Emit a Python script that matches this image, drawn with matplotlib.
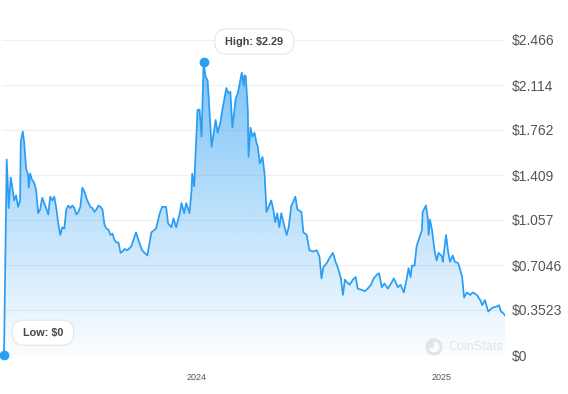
import numpy as np
import pandas as pd
import matplotlib
matplotlib.use("Agg")
import matplotlib.pyplot as plt
import matplotlib.dates as mdates
from matplotlib.path import Path
from matplotlib.patches import PathPatch, Circle, Wedge

plt.rcParams['font.family'] = ['Liberation Sans', 'DejaVu Sans']

# ---- data ----
start_date = "2023-03-20"
day_offsets = [0, 4, 6, 7, 10, 12, 15, 18, 21, 24, 25, 28, 30, 33, 36, 37, 39, 42, 45, 48,
               51, 54, 57, 60, 63, 66, 69, 72, 75, 78, 81, 84, 87, 90, 93, 96, 99, 102, 105, 108,
               111, 114, 117, 120, 123, 126, 129, 132, 135, 138, 141, 144, 147, 150, 153, 156, 159, 162, 165, 168,
               171, 174, 177, 180, 184, 190, 197, 202, 206, 214, 220, 227, 232, 236, 242, 245, 250, 253, 257, 262,
               265, 269, 272, 277, 280, 281, 284, 286, 289, 292, 295, 298, 301, 304, 307, 310, 316, 319, 323, 326,
               332, 335, 338, 341, 346, 349, 352, 355, 358, 359, 361, 364, 365, 368, 371, 374, 377, 379, 382, 386,
               389, 392, 395, 399, 402, 405, 408, 411, 414, 419, 422, 425, 429, 431, 435, 438, 444, 447, 452, 456,
               461, 467, 471, 474, 477, 482, 486, 491, 495, 498, 503, 506, 509, 512, 516, 521, 525, 528, 534, 539,
               543, 548, 552, 557, 560, 564, 568, 573, 579, 582, 588, 592, 597, 601, 604, 607, 609, 613, 616, 619,
               624, 625, 630, 633, 634, 636, 639, 643, 646, 649, 654, 655, 660, 663, 666, 670, 673, 678, 681, 684,
               687, 691, 696, 700, 706, 711, 714, 718, 723, 729, 736, 739, 742, 745, 748]
prices = [0.00, 1.53, 1.29, 1.15, 1.39, 1.33, 1.21, 1.25, 1.16, 1.21, 1.67, 1.75, 1.67, 1.46, 1.41, 1.31, 1.42, 1.37, 1.35, 1.29,
          1.11, 1.14, 1.23, 1.19, 1.15, 1.10, 1.24, 1.21, 1.24, 1.15, 1.03, 0.94, 1.00, 0.99, 1.14, 1.17, 1.15, 1.17, 1.15, 1.10,
          1.12, 1.16, 1.31, 1.28, 1.23, 1.19, 1.16, 1.15, 1.12, 1.14, 1.17, 1.16, 1.14, 1.02, 0.99, 0.98, 0.94, 0.95, 0.90, 0.88,
          0.88, 0.80, 0.81, 0.83, 0.82, 0.85, 0.96, 0.88, 0.82, 0.78, 0.96, 0.99, 1.10, 1.16, 1.16, 1.03, 1.00, 1.07, 1.00, 1.10,
          1.19, 1.11, 1.19, 1.11, 1.29, 1.42, 1.32, 1.58, 1.92, 1.92, 1.71, 2.29, 2.18, 2.15, 1.89, 1.63, 1.84, 1.74, 1.82, 1.92,
          2.09, 2.05, 2.06, 1.78, 2.01, 2.05, 2.13, 2.21, 2.11, 2.19, 2.18, 1.92, 1.55, 1.78, 1.71, 1.74, 1.66, 1.63, 1.50, 1.55,
          1.42, 1.12, 1.16, 1.21, 1.14, 1.04, 1.11, 1.00, 1.11, 1.00, 0.94, 1.00, 1.17, 1.19, 1.24, 1.14, 1.12, 0.96, 0.94, 0.82,
          0.81, 0.82, 0.77, 0.60, 0.69, 0.72, 0.76, 0.80, 0.73, 0.69, 0.60, 0.47, 0.59, 0.57, 0.55, 0.59, 0.61, 0.52, 0.51, 0.50,
          0.52, 0.55, 0.60, 0.63, 0.64, 0.53, 0.56, 0.52, 0.57, 0.60, 0.53, 0.55, 0.49, 0.59, 0.68, 0.61, 0.70, 0.70, 0.85, 0.90,
          0.98, 1.12, 1.17, 1.06, 0.94, 1.06, 0.98, 0.81, 0.74, 0.80, 0.77, 0.73, 0.94, 0.81, 0.73, 0.78, 0.73, 0.72, 0.67, 0.61,
          0.45, 0.49, 0.47, 0.49, 0.47, 0.43, 0.39, 0.43, 0.34, 0.37, 0.38, 0.39, 0.34, 0.33, 0.31]
y_ticks = [0, 0.3523, 0.7046, 1.0569, 1.4092, 1.7615, 2.1138, 2.4661]
y_tick_labels = ["$0", "$0.3523", "$0.7046", "$1.057", "$1.409", "$1.762", "$2.114", "$2.466"]
x_tick_dates = ["2024-01-01", "2025-01-01"]
x_tick_labels = ["2024", "2025"]
high_label = "High: $2.29"
low_label = "Low: $0"
watermark = "CoinStats"

# ---- figure ----
W, H = 568, 394
fig = plt.figure(figsize=(W / 100, H / 100), dpi=100)
ax = fig.add_axes([2 / W, (H - 355) / H, (505 - 2) / W, (355 - 40) / H])

dates = pd.Timestamp(start_date) + pd.to_timedelta(day_offsets, unit="D")
x = mdates.date2num(dates)
y = np.array(prices)

line_color = "#2a9df4"

# gradient fill under the line
verts = np.vstack([np.column_stack([x, y]), [[x[-1], 0], [x[0], 0]]])
patch = PathPatch(Path(verts), facecolor="none", edgecolor="none")
ax.add_patch(patch)
n = 256
rgba = np.zeros((n, 1, 4))
rgba[..., 0] = 0x2a / 255
rgba[..., 1] = 0x9d / 255
rgba[..., 2] = 0xf4 / 255
rgba[..., 3] = np.linspace(0.02, 0.62, n).reshape(-1, 1)
im = ax.imshow(rgba, extent=[x[0], x[-1], 0, y.max()], origin="lower",
               aspect="auto", zorder=1, interpolation="bilinear")
im.set_clip_path(patch)

ax.plot(x, y, color=line_color, lw=1.25, zorder=3, solid_joinstyle="round")

# high / low markers
i_hi = int(np.argmax(y))
i_lo = int(np.argmin(y))
ax.plot([x[i_hi]], [y[i_hi]], "o", color=line_color, ms=6, zorder=4, clip_on=False)
ax.plot([x[i_lo]], [y[i_lo]], "o", color=line_color, ms=6, zorder=4, clip_on=False)

box = dict(boxstyle="round,pad=0.7,rounding_size=1.1", fc="white", ec="#e6e6e6", lw=0.8)
ax.annotate(" " + high_label + " ", (x[i_hi], y[i_hi]), xytext=(36.5, 15), textcoords="offset points",
            ha="center", va="center", fontsize=7.8, fontweight="bold", color="#444444",
            bbox=box, zorder=6, annotation_clip=False)
ax.annotate(" " + low_label + " ", (x[i_lo], y[i_lo]), xytext=(28, 16), textcoords="offset points",
            ha="center", va="center", fontsize=7.8, fontweight="bold", color="#444444",
            bbox=box, zorder=6, annotation_clip=False)

# axes styling
ax.set_xlim(mdates.date2num(pd.Timestamp(start_date) - pd.Timedelta(days=3)),
            mdates.date2num(pd.Timestamp(start_date) + pd.Timedelta(days=748)))
ax.set_ylim(0, y_ticks[-1])
for s in ax.spines.values():
    s.set_visible(False)
ax.set_yticks(y_ticks)
ax.set_yticklabels(y_tick_labels)
ax.yaxis.tick_right()
ax.tick_params(axis="y", length=0, pad=5, labelsize=10, labelcolor="#555555")
ax.set_xticks(mdates.date2num(pd.to_datetime(x_tick_dates)))
ax.set_xticklabels(x_tick_labels)
ax.tick_params(axis="x", length=0, pad=13, labelsize=6.5, labelcolor="#555555")
ax.grid(axis="y", color="#f0f0f0", lw=0.9, zorder=0)
ax.set_axisbelow(True)

# watermark
wm_color = "#e3e3e3"
fig.text(448 / W, (H - 347) / H, watermark, fontsize=9, color=wm_color, va="center", ha="left")
cx, cy = 434, H - 347
circ = Circle((cx, cy), 7, transform=None, fc="none", ec=wm_color, lw=2.2)
wed = Wedge((cx, cy), 7, 90, 200, transform=None, fc=wm_color, ec="none")
fig.patches.extend([circ, wed])

fig.savefig("out.png", dpi=100)
